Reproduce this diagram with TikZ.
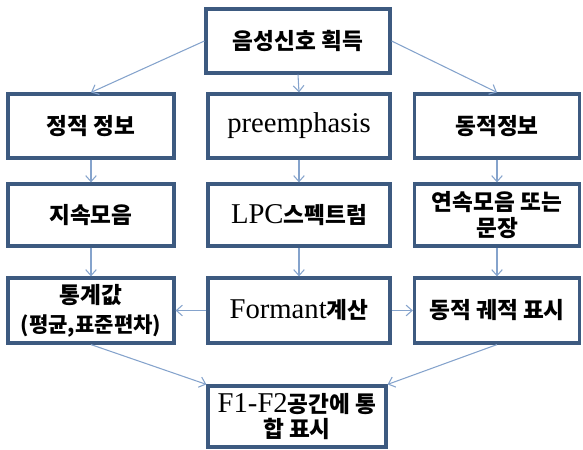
\documentclass[tikz,border=0pt]{standalone}
\usepackage{fontspec}
\usepackage{tikz}
\usepackage{xcolor}
\usetikzlibrary{arrows.meta,positioning}
\setmainfont{Liberation Serif}
\newfontfamily\kr{Noto Sans CJK KR}[Scale=0.79]
\definecolor{frame}{HTML}{3D5A80}
\definecolor{wire} {HTML}{85A3CC}

\tikzset{
  stepbox/.style 2 args={draw=frame,line width=2.4pt,fill=white,
        minimum width=#1*0.75pt,minimum height=#2*0.75pt,
        align=center,inner sep=2pt,font=\fontsize{21.5}{19}\selectfont},
  link/.style={draw=wire,line width=0.8pt,
        -{Straight Barb[length=4.5pt,width=8pt]}}
}

\begin{document}
\begin{tikzpicture}[x=0.75pt,y=-0.75pt]
  \useasboundingbox (0,0) rectangle (583,450);
  % top
  \node[stepbox={184}{64}] (acq) at (298,41) {\kr\bfseries 음성신호 획득};
  % second row
  \node[stepbox={166}{64}] (stat) at (91,126) {\kr\bfseries 정적 정보};
  \node[stepbox={182}{64}] (pre)  at (299,126) {preemphasis};
  \node[stepbox={165}{64}] (dyn)  at (497,126) {\kr\bfseries 동적정보};
  % third row
  \node[stepbox={166}{62}] (sus)  at (91,215) {\kr\bfseries 지속모음};
  \node[stepbox={182}{62}] (lpc)  at (299,215) {LPC{\kr\bfseries 스펙트럼}};
  \node[stepbox={165}{62}] (cont) at (497,215)
        {\kr\bfseries 연속모음 또는\\\kr\bfseries 문장};
  % fourth row
  \node[stepbox={166}{65}] (mean) at (91,310.5)
        {\kr\bfseries 통계값\\[3pt]\kr\bfseries\fontsize{20}{19}\selectfont (평균,표준편차)};
  \node[stepbox={182}{65}] (form) at (299,310.5) {Formant{\kr\bfseries 계산}};
  \node[stepbox={165}{65}] (traj) at (497,310.5) {\kr\bfseries 동적 궤적 표시};
  % bottom
  \node[stepbox={178}{61}] (plot) at (297,416.5)
        {F1-F2{\kr\bfseries 공간에 통}\\{\kr\bfseries 합 표시}};

  \draw[link] (acq.west)  -- (stat.north);
  \draw[link] (acq.south) -- (pre.north);
  \draw[link] (acq.east)  -- (dyn.north);
  \draw[link] (stat) -- (sus);
  \draw[link] (pre)  -- (lpc);
  \draw[link] (dyn)  -- (cont);
  \draw[link] (sus)  -- (mean);
  \draw[link] (lpc)  -- (form);
  \draw[link] (cont) -- (traj);
  \draw[link] (form) -- (mean);
  \draw[link] (form) -- (traj);
  \draw[link] (mean.south) -- (plot.north west);
  \draw[link] (traj.south) -- (plot.north east);
\end{tikzpicture}
\end{document}
